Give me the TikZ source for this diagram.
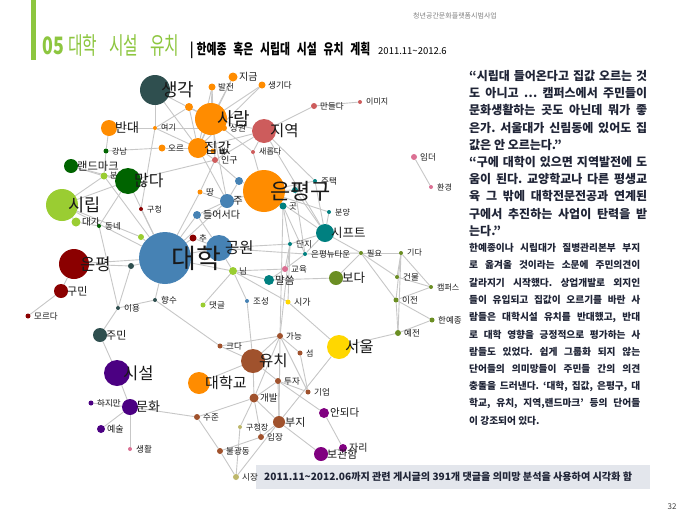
\documentclass[tikz,border=0pt]{standalone}
\usepackage{fontspec}
\setmainfont{Noto Sans CJK KR}
\definecolor{cOr}{HTML}{FF8C00}
\definecolor{cSl}{HTML}{2F4F4F}
\definecolor{cRd}{HTML}{CD5C5C}
\definecolor{cDg}{HTML}{006400}
\definecolor{cYg}{HTML}{9ACD32}
\definecolor{cSb}{HTML}{4682B4}
\definecolor{cDr}{HTML}{8B0000}
\definecolor{cTl}{HTML}{008080}
\definecolor{cOl}{HTML}{6B8E23}
\definecolor{cGd}{HTML}{FFD700}
\definecolor{cSi}{HTML}{A0522D}
\definecolor{cIn}{HTML}{4B0082}
\definecolor{cPu}{HTML}{800080}
\definecolor{cPk}{HTML}{DB7093}
\definecolor{cKh}{HTML}{BDB76B}
\definecolor{cGr}{HTML}{8DC63F}
\definecolor{cTx}{HTML}{1F2436}
\definecolor{cCap}{HTML}{E3E6EC}
\pgfdeclarelayer{edges}
\pgfdeclarelayer{labels}
\pgfsetlayers{edges,main,labels}
\tikzset{
  edge/.style={draw=black!22,line width=0.9pt},
  lbl/.style={anchor=west,inner sep=0pt,text=black!90},
  qline/.style={anchor=west,inner sep=0pt,text=cTx,font=\fontsize{12}{12}\selectfont\bfseries},
  pline/.style={anchor=west,inner sep=0pt,text=cTx,font=\fontsize{9.7}{9.7}\selectfont\bfseries},
}
\newcommand\nd[7]{%
  \node[circle,fill=#5,inner sep=0pt,minimum size=2*#4pt] (#1) at (#2,#3) {};
  \begin{pgfonlayer}{labels}
  \node[lbl,font=\fontsize{#7}{#7}\selectfont] (#1-l) at (#2+6,#3) {#6};
  \end{pgfonlayer}}
\begin{document}
\frenchspacing
\begin{tikzpicture}[x=1pt,y=-1pt]
\begin{pgfonlayer}{edges}
\fill[white] (0,0) rectangle (690,517);
\end{pgfonlayer}
\useasboundingbox (0,0) rectangle (690,517);
% header
\fill[cGr] (31,0) rectangle (36,60);
\node[anchor=base west,inner sep=0pt,text=black!50,font=\fontsize{7}{7}\selectfont] (hdr) at (413,18) {청년공간문화플랫폼시범사업};
\node[anchor=base west,inner sep=0pt,text=cGr,font=\fontsize{24}{24}\selectfont\bfseries] (t0) at (42,54) {\scalebox{0.74}[1]{05}};
\node[anchor=base west,inner sep=0pt,text=cGr,font=\fontsize{24}{24}\selectfont] (t1) at (68,54) {\scalebox{0.66}[1]{대학}};
\node[anchor=base west,inner sep=0pt,text=cGr,font=\fontsize{24}{24}\selectfont] (t2) at (109,54) {\scalebox{0.66}[1]{시설}};
\node[anchor=base west,inner sep=0pt,text=cGr,font=\fontsize{24}{24}\selectfont] (t3) at (150,54) {\scalebox{0.66}[1]{유치}};
\node[anchor=base west,inner sep=0pt,text=black,font=\fontsize{14.5}{14.5}\selectfont\bfseries] (s0) at (190,54) {\scalebox{0.75}[1]{|\hspace{4pt}한예종\hspace{9pt}혹은\hspace{9pt}시립대\hspace{9pt}시설\hspace{9pt}유치\hspace{9pt}계획}};
\node[anchor=base west,inner sep=0pt,text=black,font=\fontsize{9.5}{9.5}\selectfont] (s1) at (378,54) {2011.11\char"007E 2012.6};
% nodes
\nd{sgw}{224}{128}{3}{cOr}{상권}{8.5}
\nd{bang}{189}{107}{4}{cOr}{}{8}
\nd{sg}{155}{90}{15}{cSl}{생각}{18}
\nd{bj}{212}{87}{3.5}{cOr}{발전}{8.5}
\nd{jg}{233}{77}{4.5}{cOr}{지금}{10}
\nd{sgd}{262}{85}{3.5}{cOr}{생기다}{8.5}
\nd{bk}{213}{151}{2.5}{cOr}{밖}{8}
\nd{sr}{211}{119}{16}{cOr}{사람}{18}
\nd{bd}{109}{128}{8}{cOr}{반대}{13}
\nd{yg}{155}{128}{2}{cOr}{여기}{8}
\nd{gn}{106}{151}{2.5}{cDg}{강남}{8}
\nd{ore}{162}{148}{3.5}{cOr}{오르}{8.5}
\nd{jgp}{198}{148}{10}{cOr}{집값}{14.5}
\nd{ig}{215}{160}{3}{cRd}{인구}{9}
\nd{srd}{253}{152}{2}{cRd}{새롭다}{8}
\nd{jy}{264}{131}{12}{cRd}{지역}{15.5}
\nd{md}{314}{106}{3}{cRd}{만들다}{8.5}
\nd{imj}{360}{102}{2}{cRd}{이미지}{8}
\nd{wd}{414}{157}{3}{cPk}{임더}{8.5}
\nd{hk}{431}{187}{2}{cPk}{환경}{8}
\nd{ldm}{71}{166}{7}{cDg}{랜드마크}{11.3}
\nd{bun}{104}{176}{3.5}{cYg}{분}{8}
\nd{mn}{128}{181}{13}{cDg}{많다}{16}
\nd{sl}{62}{205}{16}{cYg}{시립}{17.5}
\nd{gc}{141}{209}{2}{cDr}{구청}{8}
\nd{dg}{76}{222}{4.5}{cYg}{대가}{9.5}
\nd{dn}{99}{226}{2}{cDg}{동네}{8.5}
\nd{ttang}{200}{192}{2.5}{cOr}{땅}{8.5}
\nd{ju}{227}{201}{7}{cSb}{주}{10.5}
\nd{ds}{197}{215}{4}{cSb}{들어서다}{10}
\nd{sb1}{239}{181}{4}{cSb}{}{8}
\nd{tl}{295}{190}{3}{cTl}{}{8}
\nd{epg}{264}{191}{21}{cOr}{은평구}{22}
\nd{jt}{315}{181}{2}{cTl}{주택}{8.5}
\nd{got}{283}{206}{3.5}{cTl}{곳}{8.5}
\nd{byg}{329}{212}{2}{cTl}{분양}{8}
\nd{sft}{325}{233}{9}{cTl}{시프트}{12.5}
\nd{dj}{290}{244}{2}{cTl}{단지}{8.5}
\nd{ent}{305}{254}{2}{cTl}{은평뉴타운}{8.5}
\nd{py}{361}{253}{2}{cOl}{필요}{8}
\nd{gd}{401}{253}{2}{cOl}{기다}{8}
\nd{gy}{285}{269}{3}{cPk}{교육}{8.5}
\nd{nim}{233}{271}{4}{cYg}{님}{8.5}
\nd{ms}{269}{280}{5}{cTl}{말씀}{10.5}
\nd{bo}{336}{278}{7}{cOl}{보다}{12.5}
\nd{gm}{397}{277}{2}{cOl}{건물}{8.5}
\nd{cp}{431}{287}{2}{cOl}{캠퍼스}{8}
\nd{ij}{396}{300}{2.5}{cOl}{이전}{8.5}
\nd{hyj}{432}{320}{2.5}{cOl}{한예종}{8.5}
\nd{yj}{398}{333}{3}{cOl}{예전}{8.5}
\nd{su}{339}{347}{12}{cGd}{서울}{15.5}
\nd{js}{247}{301}{2}{cSb}{조성}{8.5}
\nd{sga}{288}{302}{2.5}{cGd}{시가}{9}
\nd{dgl}{203}{305}{2.5}{cYg}{댓글}{8.5}
\nd{gn2}{280}{336}{3}{cSi}{가능}{8.5}
\nd{kd}{220}{346}{2.5}{cSi}{크다}{8.5}
\nd{seom}{300}{353}{2.5}{cSi}{섬}{8}
\nd{dhg}{199}{383}{11}{cOr}{대학교}{15}
\nd{yc}{253}{361}{12}{cSi}{유치}{15.5}
\nd{tj}{278}{381}{3}{cSi}{투자}{8.5}
\nd{gu}{308}{392}{2.5}{cSi}{기업}{8.5}
\nd{gb}{254}{398}{4.5}{cSi}{개발}{9.5}
\nd{bj2}{279}{422}{6}{cSi}{부지}{11}
\nd{ad}{324}{413}{5}{cPu}{안되다}{10.5}
\nd{gcj}{240}{427}{2}{cKh}{구청장}{8}
\nd{ipj}{261}{437}{3}{cSi}{입장}{8.5}
\nd{bgd}{220}{451}{3}{cSi}{불광동}{8.5}
\nd{sj}{197}{417}{3}{cSi}{수준}{8.5}
\nd{jr}{343}{448}{4}{cPu}{자리}{10}
\nd{bgh}{321}{454}{7}{cPu}{보관함}{11}
\nd{sij}{236}{477}{3}{cKh}{시장}{8.5}
\nd{ss}{117}{373}{13}{cIn}{시설}{16.5}
\nd{hjm}{91}{403}{2.5}{cIn}{하지만}{8.5}
\nd{mh}{130}{407}{8}{cIn}{문화}{13}
\nd{ys}{101}{429}{4}{cIn}{예술}{9}
\nd{sh}{130}{449}{2}{cPk}{생활}{8.5}
\nd{jm}{100}{335}{7}{cSl}{주민}{11}
\nd{iy}{118}{308}{2}{cSl}{이용}{8.5}
\nd{hs}{155}{300}{2}{cSl}{향수}{8.5}
\nd{ep}{74}{264}{15}{cDr}{은평}{16.5}
\nd{gm2}{61}{291}{7}{cDr}{구민}{11}
\nd{mrd}{28}{316}{2.5}{cDr}{모르다}{8.5}
\nd{sl2}{131}{266}{3}{cSl}{}{8}
\nd{yg2}{141}{237}{3}{cYg}{}{8}
\nd{dh}{165}{258}{26}{cSb}{대학}{27}
\nd{chu}{193}{238}{3.5}{cDr}{추}{8.5}
\nd{gw}{219}{248}{13}{cSb}{공원}{15.5}
% edges
\begin{pgfonlayer}{edges}
\foreach \a/\b in {sg/sr,sg/jgp,sg/yg,bj/sr,bj/jgp,bj/ig,jg/sr,jg/jgp,sgd/sr,sgd/jgp,bang/sr,bang/jgp,bang/yg,
bd/yg,yg/sgw,bd/gn,gn/ore,ore/jgp,yg/gc,gn/bun,yg/jgp,
jgp/sr,jgp/ig,jgp/jy,sr/jy,ig/jy,srd/jy,srd/epg,jy/md,md/imj,jy/jt,jy/sft,sr/srd,
mn/ig,ldm/mn,ldm/bun,bun/mn,bun/sl,sl/mn,sl/dg,dg/dn,dn/mn,bun/dh,dn/iy,sl/dh,yg2/dh,yg2/sl,gc/dh,mn/dh,
ttang/dh,ttang/ju,ju/dh,ju/epg,ds/dh,ds/ju,sb1/epg,sb1/ju,ig/ttang,jgp/ju,sr/ju,ig/sb1,ds/gw,
epg/jt,epg/tl,epg/got,epg/byg,epg/sft,jt/sft,byg/sft,got/dj,got/gn2,got/ent,tl/ent,tl/sft,
sft/dj,sft/ent,sft/py,
dh/chu,dh/gw,chu/gw,dh/nim,gw/nim,gw/dj,nim/gy,nim/ms,nim/js,nim/dgl,ms/gy,ms/bo,gy/dj,gy/ent,dh/sl2,sl2/ep,ep/gm2,gm2/mrd,ep/dh,sl2/iy,iy/hs,hs/dh,iy/jm,hs/kd,jm/ss,ss/mh,mh/hjm,mh/ys,mh/sh,mh/sj,gw/ent,
bo/py,ent/py,py/gd,py/gm,py/ij,gd/gm,gd/ij,gd/yj,gm/cp,ij/cp,ij/hyj,yj/hyj,yj/ij,su/yj,su/sga,sga/nim,sga/dj,su/bj2,gd/cp,
kd/gn2,gn2/yc,gn2/seom,gn2/gu,gn2/gb,gn2/bj2,gn2/dj,js/yc,kd/yc,yc/dhg,yc/tj,tj/gu,tj/ad,yc/gb,gb/bj2,gb/sj,gb/ipj,gb/gcj,bj2/ipj,bj2/bgh,ad/jr,bgh/jr,sj/bgd,bgd/ipj,sij/gcj,sij/bgd,sij/bj2,seom/gu,tj/bj2,gb/tj,wd/hk}
  \draw[edge] (\a) -- (\b);
\end{pgfonlayer}
% right column: quotes
\node[qline] (q1) at (469,76) {\makebox[178pt][s]{“시립대 들어온다고 집값 오르는 것}};
\node[qline] (q2) at (469,93.2) {\makebox[178pt][s]{도 아니고 … 캠퍼스에서 주민들이}};
\node[qline] (q3) at (469,110.4) {\makebox[178pt][s]{문화생활하는 곳도 아닌데 뭐가 좋}};
\node[qline] (q4) at (469,127.6) {\makebox[178pt][s]{은가. 서울대가 신림동에 있어도 집}};
\node[qline] (q5) at (469,144.8) {값은 안 오르는다.”};
\node[qline] (q6) at (469,162) {\makebox[178pt][s]{“구에 대학이 있으면 지역발전에 도}};
\node[qline] (q7) at (469,179.2) {\makebox[178pt][s]{움이 된다. 교양학교나 다른 평생교}};
\node[qline] (q8) at (469,196.4) {\makebox[178pt][s]{육 그 밖에 대학전문전공과 연계된}};
\node[qline] (q9) at (469,213.6) {\makebox[178pt][s]{구에서 추진하는 사업이 탄력을 받}};
\node[qline] (q10) at (469,230.8) {는다.”};
% right column: paragraph
\node[pline] (p1) at (469,248) {\makebox[171pt][s]{한예종이나 시립대가 질병관리본부 부지}};
\node[pline] (p2) at (469,265.3) {\makebox[171pt][s]{로 옮겨올 것이라는 소문에 주민의견이}};
\node[pline] (p3) at (469,282.6) {\makebox[171pt][s]{갈라지기 시작했다. 상업개발로 외지인}};
\node[pline] (p4) at (469,299.9) {\makebox[171pt][s]{들이 유입되고 집값이 오르기를 바란 사}};
\node[pline] (p5) at (469,317.2) {\makebox[171pt][s]{람들은 대학시설 유치를 반대했고, 반대}};
\node[pline] (p6) at (469,334.5) {\makebox[171pt][s]{로 대학 영향을 긍정적으로 평가하는 사}};
\node[pline] (p7) at (469,351.8) {\makebox[171pt][s]{람들도 있었다. 쉽게 그룹화 되지 않는}};
\node[pline] (p8) at (469,369.1) {\makebox[171pt][s]{단어들의 의미망들이 주민들 간의 의견}};
\node[pline] (p9) at (469,386.4) {\makebox[171pt][s]{충돌을 드러낸다. ‘대학, 집값, 은평구, 대}};
\node[pline] (p10) at (469,403.7) {\makebox[171pt][s]{학교, 유치, 지역,랜드마크’ 등의 단어들}};
\node[pline] (p11) at (469,421) {이 강조되어 있다.};
% caption
\node[fill=cCap,anchor=north west,minimum width=394pt,minimum height=24pt,inner sep=0pt] (capbox) at (256,465) {};
\node[anchor=west,inner sep=0pt,text=cTx,font=\fontsize{10.1}{10.1}\selectfont\bfseries] (cap) at (264,477) {2011.11\char"007E 2012.06까지 관련 게시글의 391개 댓글을 의미망 분석을 사용하여 시각화 함};
\node[inner sep=0pt,text=black!75,font=\fontsize{8}{8}\selectfont] (pg) at (672,507) {32};
\end{tikzpicture}
\end{document}
